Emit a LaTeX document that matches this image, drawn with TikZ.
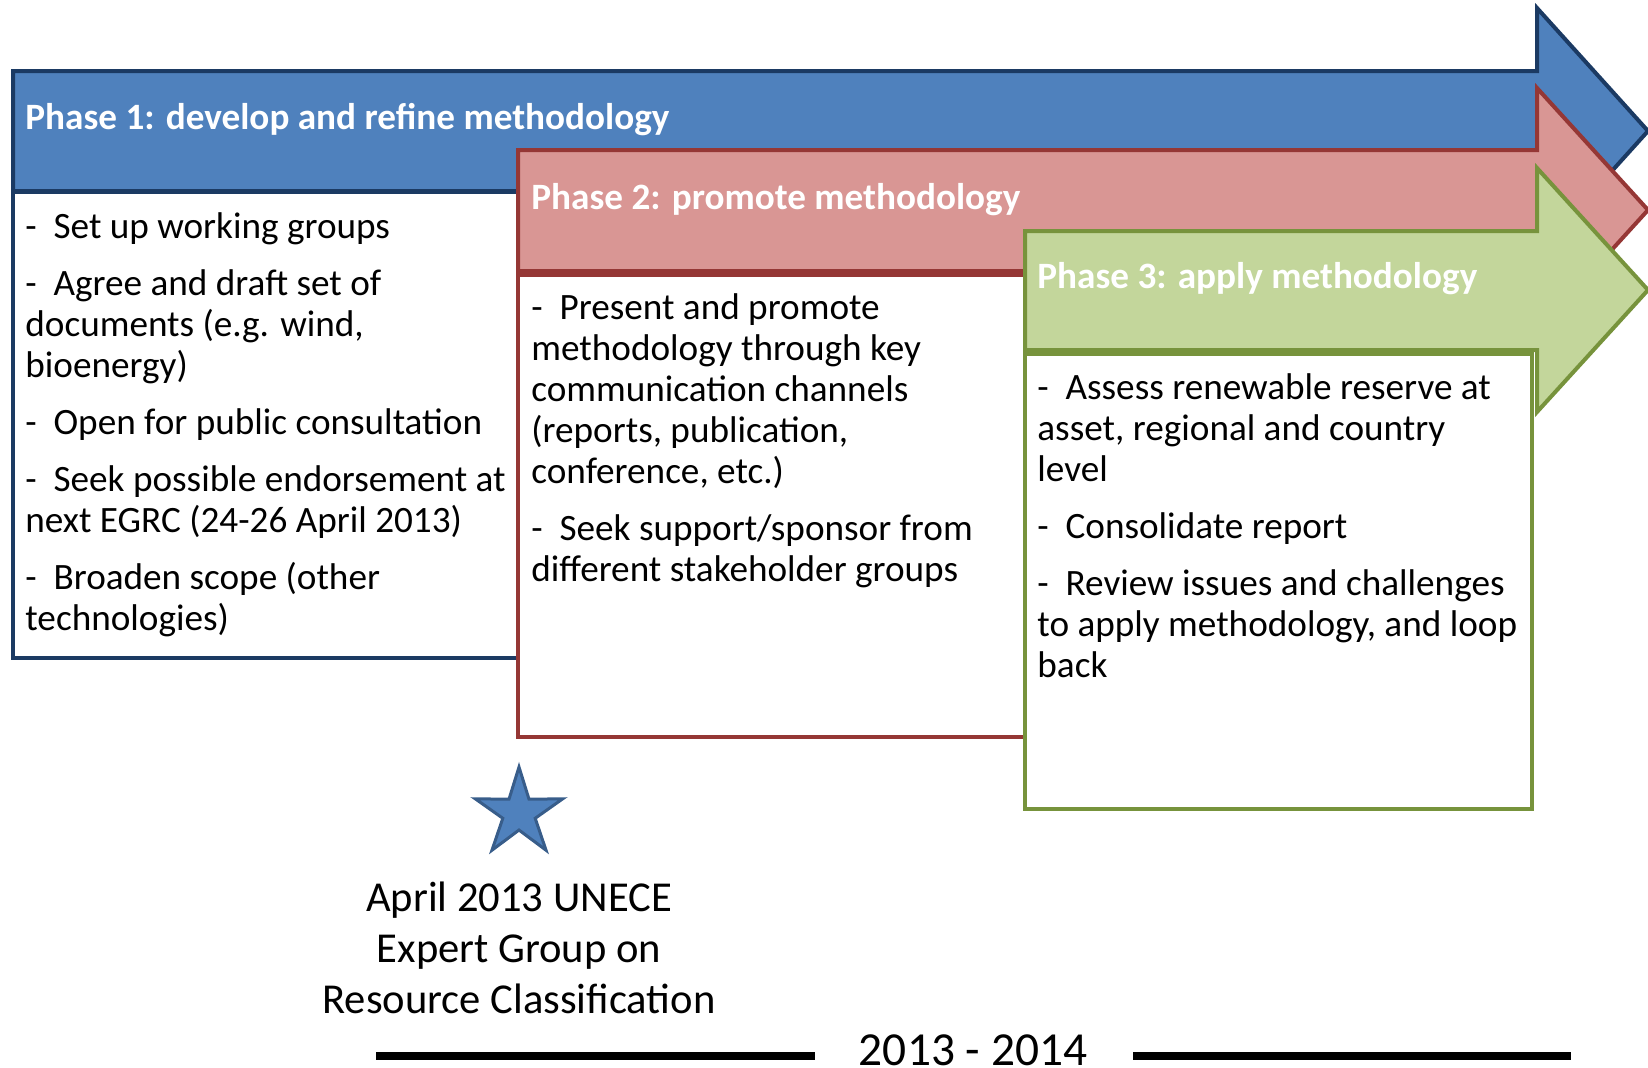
\documentclass[tikz,border=0pt]{standalone}
\usepackage{fontspec}
\setmainfont{Carlito}
\usetikzlibrary{shapes.geometric,positioning}
\definecolor{ponefill}{HTML}{4F81BD}
\definecolor{poneline}{HTML}{1B3A63}
\definecolor{ptwofill}{HTML}{D99694}
\definecolor{ptwoline}{HTML}{953735}
\definecolor{pthreefill}{HTML}{C3D69B}
\definecolor{pthreeline}{HTML}{77933C}
\definecolor{starline}{HTML}{385D8A}
\begin{document}
\begin{tikzpicture}[x=0.5pt,y=-0.5pt,
		phaseone/.style={fill=ponefill,draw=poneline,line width=2pt},
		phasetwo/.style={fill=ptwofill,draw=ptwoline,line width=2pt},
		phasethree/.style={fill=pthreefill,draw=pthreeline,line width=2pt},
		heading/.style={anchor=base west,inner sep=0,text=white,font=\bfseries\fontsize{18.6}{20.5}\selectfont},
		items/.style={anchor=base west,inner sep=0,align=left,font=\fontsize{18.6}{20.5}\selectfont},
		rule/.style={line width=4.2pt}]
			\useasboundingbox (0,0) rectangle (1648,1067);
			\draw[phaseone] (13,71) -- (1537,71) -- (1537,8) -- (1648,131) -- (1537,254) -- (1537,191) -- (13,191) -- cycle;
			\draw[phaseone,fill=white] (13,192) rectangle (518,658);
			\draw[phasetwo] (518,150) -- (1537,150) -- (1537,88) -- (1648,210) -- (1537,332) -- (1537,271) -- (518,271) -- cycle;
			\draw[phasetwo,fill=white] (518,275) rectangle (1025,737);
			\draw[phasethree] (1025,231) -- (1537,231) -- (1537,168) -- (1648,290) -- (1537,412) -- (1537,350) -- (1025,350) -- cycle;
			\draw[phasethree,fill=white] (1025,354) rectangle (1532,809);
			\node[heading] (head1) at (25,129) {Phase 1: develop and refine methodology};
			\node[heading] (head2) at (531,209) {Phase 2: promote methodology};
			\node[heading] (head3) at (1037,288) {Phase 3: apply methodology};
			\node[items] (list1) at (25,630) {-~~Set up working groups\\[7.9pt]
				-~~Agree and draft set of\\documents (e.g. wind,\\bioenergy)\\[7.9pt]
				-~~Open for public consultation\\[7.9pt]
				-~~Seek possible endorsement at\\next EGRC (24-26 April 2013)\\[7.9pt]
				-~~Broaden scope (other\\technologies)};
			\node[items] (list2) at (531,581) {-~~Present and promote\\methodology through key\\communication channels\\(reports, publication,\\conference, etc.)\\[7.9pt]
				-~~Seek support/sponsor from\\different stakeholder groups};
			\node[items] (list3) at (1037,677) {-~~Assess renewable reserve at\\asset, regional and country\\level\\[7.9pt]
				-~~Consolidate report\\[7.9pt]
				-~~Review issues and challenges\\to apply methodology, and loop\\back};
			\node[star,star points=5,star point ratio=2.7,minimum size=46pt,inner sep=0,fill=ponefill,draw=starline,line width=1.5pt] (star) at (519,813) {};
			\node[anchor=base,align=center,inner sep=0,font=\fontsize{21.3}{25.5}\selectfont] (egrc) at (519,1013) {April 2013 UNECE\\Expert Group on\\Resource Classification};
			\node[anchor=base,inner sep=0,font=\fontsize{23.7}{28}\selectfont] (years) at (973,1065) {2013 - 2014};
			\draw[rule] (376,1056) -- (815,1056);
			\draw[rule] (1133,1056) -- (1571,1056);
		\end{tikzpicture}
\end{document}
